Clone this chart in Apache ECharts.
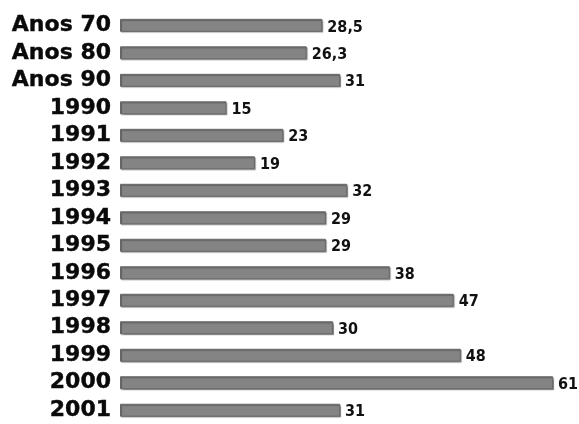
<!DOCTYPE html>
<html>
<head>
<meta charset="utf-8">
<script src="https://cdn.jsdelivr.net/npm/echarts@6/dist/echarts.min.js"></script>
<style>
  html, body { margin: 0; padding: 0; background: #fff; }
  #chart { width: 579px; height: 424px; }
</style>
</head>
<body>
<div id="chart"></div>
<script>
// Periods / years shown on the vertical axis, top to bottom
const categories = ['Anos 70', 'Anos 80', 'Anos 90', '1990', '1991', '1992', '1993',
  '1994', '1995', '1996', '1997', '1998', '1999', '2000', '2001'];
// Value for each period
const values = [28.5, 26.3, 31, 15, 23, 19, 32, 29, 29, 38, 47, 30, 48, 61, 31];

const chart = echarts.init(document.getElementById('chart'), null, { renderer: 'canvas' });

chart.setOption({
  backgroundColor: '#ffffff',
  animation: false,
  grid: { left: 120, top: 11.6, width: 454.4, height: 417, containLabel: false },
  xAxis: {
    type: 'value', min: 0, max: 64,
    show: false
  },
  yAxis: {
    type: 'category',
    data: categories,
    inverse: true,
    axisLine: { show: false },
    axisTick: { show: false },
    axisLabel: {
      interval: 0,
      hideOverlap: false,
      margin: 9,
      color: '#0a0a0a',
      fontFamily: 'DejaVu Sans',
      fontWeight: 'bold',
      fontSize: 22,
      textBorderColor: '#0a0a0a',
      textBorderWidth: 0.4,
      padding: [4, 0, 0, 0]
    }
  },
  series: [{
    type: 'bar',
    data: values,
    barWidth: 13,
    itemStyle: {
      color: '#848484',
      borderColor: '#666',
      borderWidth: 1,
      shadowColor: 'rgba(0,0,0,0.3)',
      shadowOffsetX: 1,
      shadowOffsetY: 1,
      shadowBlur: 1
    },
    label: {
      show: true,
      position: 'right',
      distance: 5,
      color: '#111',
      fontFamily: "'DejaVu Sans Condensed', 'DejaVu Sans'",
      fontWeight: 'bold',
      fontSize: 16,
      offset: [0, 2],
      formatter: p => String(p.value).replace('.', ',')
    }
  }]
});
</script>
</body>
</html>
